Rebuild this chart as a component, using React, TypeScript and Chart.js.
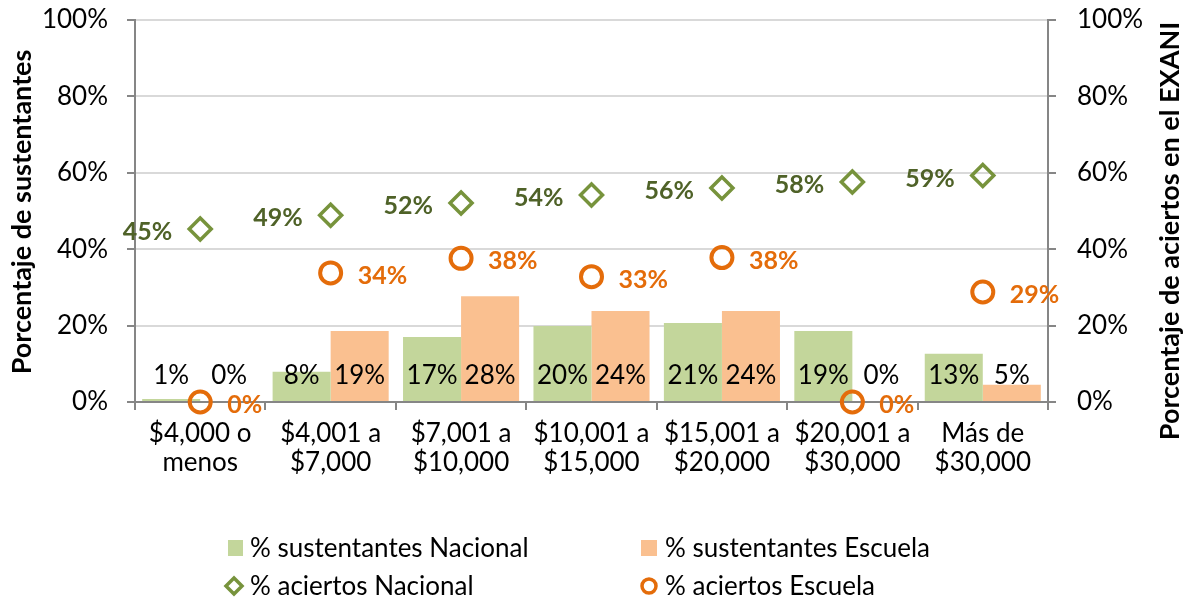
import React, { useEffect, useRef } from "react";
import { Chart, registerables } from "chart.js";

Chart.register(...registerables);

const categories: string[][] = [
  ["$4,000 o", "menos"],
  ["$4,001 a", "$7,000"],
  ["$7,001 a", "$10,000"],
  ["$10,001 a", "$15,000"],
  ["$15,001 a", "$20,000"],
  ["$20,001 a", "$30,000"],
  ["Más de", "$30,000"],
];

const sustentantesNacional = [0.8, 7.9, 17.0, 19.9, 20.7, 18.6, 12.6];
const sustentantesEscuela = [0, 18.6, 27.7, 23.8, 23.8, 0, 4.5];
const aciertosNacional = [45.3, 48.9, 52.1, 54.2, 56.0, 57.6, 59.3];
const aciertosEscuela = [0, 33.8, 37.6, 32.8, 37.8, 0, 28.8];

const yTicks = [0, 20, 40, 60, 80, 100];

const FONT = "Lato";
const GREEN_BAR = "#C3D69B";
const ORANGE_BAR = "#FAC090";
const GREEN_MARK = "#77933C";
const GREEN_LABEL = "#4F6228";
const ORANGE_MARK = "#E46C0A";
const AXIS = "#868686";
const GRID = "#D9D9D9";

const labelsPlugin = {
  id: "customLabels",
  afterDatasetsDraw(chart: any) {
    const ctx = chart.ctx;
    const y = chart.scales.y;
    const zero = y.getPixelForValue(0);
    ctx.save();
    ctx.font = `26px ${FONT}`;
    ctx.fillStyle = "#000";
    ctx.textAlign = "center";
    ctx.textBaseline = "middle";
    [0, 1].forEach((di) => {
      const meta = chart.getDatasetMeta(di);
      const data = chart.data.datasets[di].data as number[];
      meta.data.forEach((el: any, i: number) => {
        ctx.fillText(`${Math.round(data[i])}%`, el.x, zero - 26);
      });
    });
    ctx.font = `bold 25px ${FONT}`;
    const mN = chart.getDatasetMeta(2);
    const dN = chart.data.datasets[2].data as number[];
    ctx.fillStyle = GREEN_LABEL;
    ctx.textAlign = "right";
    mN.data.forEach((el: any, i: number) => {
      ctx.fillText(`${Math.round(dN[i])}%`, el.x - 28, el.y + 3);
    });
    const mE = chart.getDatasetMeta(3);
    const dE = chart.data.datasets[3].data as number[];
    ctx.fillStyle = ORANGE_MARK;
    ctx.textAlign = "left";
    mE.data.forEach((el: any, i: number) => {
      ctx.fillText(`${Math.round(dE[i])}%`, el.x + 27, el.y + 3);
    });
    ctx.restore();
  },
  afterDraw(chart: any) {
    const ctx = chart.ctx;
    ctx.save();
    ctx.font = `bold 27px ${FONT}`;
    ctx.fillStyle = "#000";
    ctx.textAlign = "center";
    ctx.textBaseline = "middle";
    ctx.save();
    ctx.translate(22, 212);
    ctx.rotate(-Math.PI / 2);
    ctx.fillText("Porcentaje de sustentantes", 0, 0);
    ctx.restore();
    ctx.save();
    ctx.font = `bold 27px ${FONT}`;
    ctx.translate(1170, 231);
    ctx.rotate(-Math.PI / 2);
    ctx.fillText("Porcentaje de aciertos en el EXANI", 0, 0);
    ctx.restore();

    const labels = chart.data.datasets.map((d: any) => d.label);
    ctx.font = `26px ${FONT}`;
    ctx.textAlign = "left";
    ctx.fillStyle = GREEN_BAR;
    ctx.fillRect(228, 540, 15, 16);
    ctx.fillStyle = ORANGE_BAR;
    ctx.fillRect(641, 540, 16, 16);
    ctx.lineWidth = 3.5;
    ctx.strokeStyle = GREEN_MARK;
    ctx.beginPath();
    ctx.moveTo(226, 586);
    ctx.lineTo(234, 578);
    ctx.lineTo(242, 586);
    ctx.lineTo(234, 594);
    ctx.closePath();
    ctx.stroke();
    ctx.strokeStyle = ORANGE_MARK;
    ctx.beginPath();
    ctx.arc(649, 586, 7, 0, Math.PI * 2);
    ctx.stroke();
    ctx.fillStyle = "#000";
    ctx.fillText(labels[0], 250, 549);
    ctx.fillText(labels[1], 665, 549);
    ctx.fillText(labels[2], 250, 587);
    ctx.fillText(labels[3], 665, 587);
    ctx.restore();
  },
};

export default function App() {
  const ref = useRef<HTMLCanvasElement>(null);
  useEffect(() => {
    if (!ref.current) return;
    const pct = (v: any) => `${v}%`;
    const chart = new Chart(ref.current, {
      type: "bar",
      data: {
        labels: categories as any,
        datasets: [
          {
            type: "bar",
            label: "% sustentantes Nacional",
            data: sustentantesNacional,
            backgroundColor: GREEN_BAR,
            yAxisID: "y",
            order: 2,
            categoryPercentage: 0.89,
            barPercentage: 1,
          },
          {
            type: "bar",
            label: "% sustentantes Escuela",
            data: sustentantesEscuela,
            backgroundColor: ORANGE_BAR,
            yAxisID: "y",
            order: 2,
            categoryPercentage: 0.89,
            barPercentage: 1,
          },
          {
            type: "line",
            label: "% aciertos Nacional",
            data: aciertosNacional,
            showLine: false,
            pointStyle: "rectRot",
            pointRadius: 11,
            pointBorderWidth: 3.5,
            pointBorderColor: GREEN_MARK,
            pointBackgroundColor: "rgba(0,0,0,0)",
            borderColor: GREEN_MARK,
            yAxisID: "y1",
            order: 1,
            clip: false,
          } as any,
          {
            type: "line",
            label: "% aciertos Escuela",
            data: aciertosEscuela,
            showLine: false,
            pointStyle: "circle",
            pointRadius: 10.5,
            pointBorderWidth: 4,
            pointBorderColor: ORANGE_MARK,
            pointBackgroundColor: "rgba(0,0,0,0)",
            borderColor: ORANGE_MARK,
            yAxisID: "y1",
            order: 0,
            clip: false,
          } as any,
        ],
      },
      options: {
        animation: false,
        responsive: false,
        layout: { padding: { top: 20, bottom: 0, left: 0, right: 0 } },
        plugins: {
          legend: { display: false },
          tooltip: { enabled: false },
        },
        scales: {
          x: {
            offset: true,
            grid: {
              drawOnChartArea: false,
              drawTicks: true,
              tickLength: 8,
              tickColor: AXIS,
              lineWidth: 2,
              offset: true,
            },
            border: { color: AXIS, width: 2 },
            ticks: {
              font: { family: FONT, size: 26, lineHeight: 1.08 },
              color: "#000",
              padding: 10,
              maxRotation: 0,
              autoSkip: false,
            },
            afterFit: (s: any) => {
              s.height = 201;
              s.paddingLeft = 0;
              s.paddingRight = 0;
            },
          },
          y: {
            position: "left",
            min: 0,
            max: 100,
            afterBuildTicks: (s: any) => {
              s.ticks = yTicks.map((v) => ({ value: v }));
            },
            grid: {
              color: GRID,
              lineWidth: 2,
              tickLength: 8,
              tickColor: AXIS,
            },
            border: { color: AXIS, width: 2 },
            ticks: {
              font: { family: FONT, size: 26 },
              color: "#000",
              padding: 19,
              callback: pct,
            },
            afterFit: (s: any) => {
              s.width = 135;
              s.paddingTop = 0;
              s.paddingBottom = 0;
            },
          },
          y1: {
            position: "right",
            min: 0,
            max: 100,
            afterBuildTicks: (s: any) => {
              s.ticks = yTicks.map((v) => ({ value: v }));
            },
            grid: {
              drawOnChartArea: false,
              tickLength: 8,
              tickColor: AXIS,
              lineWidth: 2,
            },
            border: { color: AXIS, width: 2 },
            ticks: {
              font: { family: FONT, size: 26 },
              color: "#000",
              padding: 21,
              callback: pct,
            },
            afterFit: (s: any) => {
              s.width = 145;
              s.paddingTop = 0;
              s.paddingBottom = 0;
            },
          },
        },
      },
      plugins: [labelsPlugin],
    });
    return () => chart.destroy();
  }, []);
  return (
    <div style={{ position: "fixed", left: 0, top: 0, width: 1193, height: 603, background: "#fff" }}>
      <canvas ref={ref} width={1193} height={603} style={{ display: "block" }} />
    </div>
  );
}
